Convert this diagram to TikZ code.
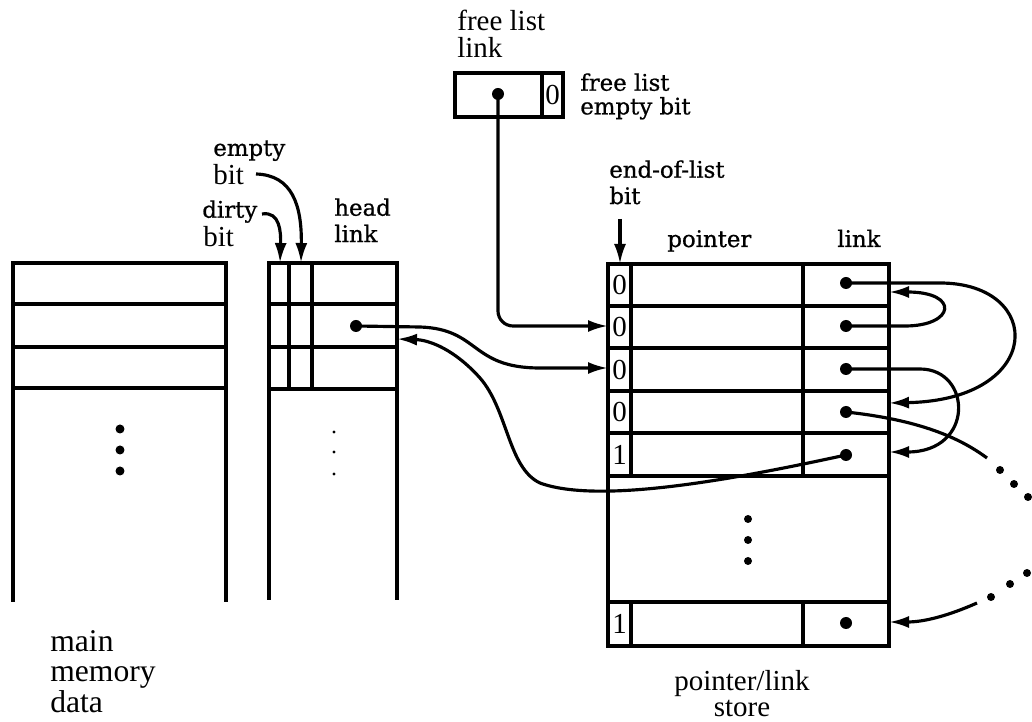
\documentclass[tikz,border=0pt]{standalone}
\usepackage{fontspec}
\setmainfont{Liberation Serif}
\newfontfamily\hdfont[FakeBold=0.8]{DejaVu Serif}
\usetikzlibrary{arrows.meta}
\tikzset{
  wall/.style   = {line width=1.9pt},
  ptrdot/.style = {circle, fill, inner sep=0pt, minimum size=0.24cm},
  linkln/.style = {line width=1.8pt},
  linkar/.style = {linkln, -{Latex[length=0.4cm,width=0.24cm]}},
  plain/.style  = {inner sep=0pt, align=left, font=\fontsize{16.5}{15}\selectfont},
  heavy/.style  = {inner sep=0pt, align=left, font=\hdfont\fontsize{13}{15}\selectfont},
  bitval/.style = {inner sep=0pt, font=\fontsize{16.5}{15}\selectfont}
}
\begin{document}
\begin{tikzpicture}[x=0.02cm, y=-0.02cm]
  \useasboundingbox (0,0) rectangle (1032,722);

  % main memory data
  \draw[wall] (13,602) -- (13,263) -- (226,263) -- (226,602);
  \foreach \y in {304,347,388} \draw[wall] (13,\y) -- (226,\y);
  \foreach \y in {429,450,471} \fill (120,\y) circle (0.09cm);
  \node[plain, anchor=north west, font=\fontsize{18}{17.4}\selectfont] (mmd) at (50,630) {main\\memory\\data};

  % dirty / empty bits and head links
  \draw[wall] (269,600) -- (269,263) -- (397,263) -- (397,600);
  \foreach \y in {304,347,389} \draw[wall] (269,\y) -- (397,\y);
  \foreach \x in {289,312} \draw[wall] (\x,263) -- (\x,389);
  \foreach \y in {432,452,474} \fill (334,\y) circle (0.032cm);
  \node[ptrdot] (hd) at (356,326) {};
  \coordinate (hdin) at (397,339);

  \node[heavy, anchor=north west] (emp) at (213,140) {empty};
  \node[plain, anchor=north west] (ebit) at (213,164) {bit};
  \node[heavy, anchor=north west] (dty) at (202,200) {dirty};
  \node[plain, anchor=north west] (dbit) at (203,226) {bit};
  \node[heavy, anchor=north west] (hlk) at (334,198) {head\\link};
  \coordinate (etail) at (256,174);
  \coordinate (dtail) at (262,214);
  \coordinate (ecol) at (301,263);
  \coordinate (dcol) at (280,263);
  \draw[linkar] (etail) .. controls (292,175) and (302,205) .. (ecol);
  \draw[linkar] (dtail) .. controls (280,211) and (281,232) .. (dcol);

  % free list link
  \draw[wall] (455,73) rectangle (563,117);
  \draw[wall] (542,73) -- (542,117);
  \node[bitval] (fb) at (552.5,95) {0};
  \node[ptrdot] (fd) at (498,94) {};
  \node[plain, anchor=north west] (fll) at (457,10) {free list\\link};
  \node[heavy, anchor=north west, font=\hdfont\fontsize{13}{13.5}\selectfont] (feb) at (580,73) {free list\\empty bit};

  % pointer/link store
  \draw[wall] (608,264) rectangle (889,646);
  \foreach \y in {306,348,391,433,476,602} \draw[wall] (608,\y) -- (889,\y);
  \foreach \x in {631,803} {
    \draw[wall] (\x,264) -- (\x,476);
    \draw[wall] (\x,602) -- (\x,646);
  }
  \foreach \y in {519,540,561} \fill (748,\y) circle (0.08cm);
  \foreach \v/\y [count=\i] in {0/285,0/327,0/370,0/412,1/455,1/624}
    \node[bitval] (b\i) at (619.5,\y) {\v};
  \foreach \y [count=\i] in {283,326,369,412,455,623}
    \node[ptrdot] (l\i) at (846,\y) {};
  \node[heavy, anchor=north west] (eol) at (609,160) {end-of-list\\bit};
  \node[heavy, anchor=base west] (ptr) at (667,247) {pointer};
  \node[heavy, anchor=base west] (lnk) at (837,247) {link};
  \node[plain, anchor=north, align=center] (pls) at (742,670) {pointer/link\\store};

  \coordinate (eolt) at (620,219);
  \coordinate (eolh) at (620,264);
  \coordinate (inL2) at (608,326);
  \coordinate (inL3) at (608,368);
  \coordinate (inR1) at (889,292);
  \coordinate (inR4) at (889,403);
  \coordinate (inR5) at (889,452);
  \coordinate (inR6) at (889,622);

  \draw[linkar] (eolt) -- (eolh);
  \draw[linkar, rounded corners=0.3cm] (fd.center) |- (inL2);
  \draw[linkar] (hd.center) -- (420,327) .. controls (480,329) and (470,368) .. (540,368) -- (inL3);
  \draw[linkar] (l5.center) .. controls (740,478) and (600,505) .. (540,483)
                .. controls (508,468) and (508,410) .. (480,378)
                .. controls (455,350) and (430,340) .. (hdin);

  \draw[linkar] (l1.center) -- (940,283) .. controls (1045,283) and (1045,400) .. (inR4);
  \draw[linkar] (l2.center) -- (905,326) .. controls (955,326) and (960,292) .. (inR1);
  \draw[linkar] (l3.center) -- (920,369) .. controls (972,369) and (975,452) .. (inR5);
  \draw[linkln] (l4.center) .. controls (920,420) and (960,438) .. (987,458);
  \foreach \p in {(1000,470),(1014,484),(1028,497),(1027,573),(1010,584),(991,597)}
    \fill \p circle (0.08cm);
  \draw[linkar] (977,603) .. controls (950,615) and (925,622) .. (inR6);
\end{tikzpicture}
\end{document}
